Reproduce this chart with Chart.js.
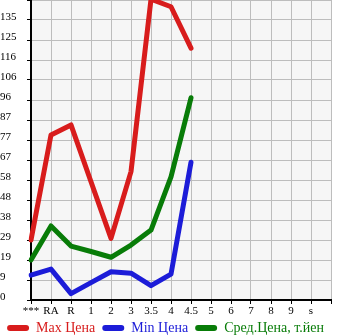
<!DOCTYPE html>
<html>
<head>
<meta charset="utf-8">
<script src="https://cdn.jsdelivr.net/npm/chart.js@4/dist/chart.umd.min.js"></script>
<style>
html,body{margin:0;padding:0;background:#fff;}
#wrap{width:345px;height:335px;}
</style>
</head>
<body>
<div id="wrap"><canvas id="c" width="345" height="335"></canvas></div>
<script>
const categories = ['***','RA','R','1','2','3','3,5','4','4,5','5','6','7','8','9','s'];
const maxPrices = [28.9, 79.6, 84.4, 57.0, 29.7, 61.9, 145, 141.4, 121.4, null, null, null, null, null, null];
const minPrices = [12.0, 14.9, 3.1, 8.4, 13.6, 12.9, 6.9, 12.5, 66.4, null, null, null, null, null, null];
const avgPrices = [19.3, 35.7, 26.0, 23.4, 20.6, 26.5, 33.7, 59.4, 97.5, null, null, null, null, null, null];
const yTickLabels = ['0','9','19','29','38','48','58','67','77','87','96','106','116','125','135'];
const seriesNames = ['Max Цена','Min Цена','Сред.Цена, т.йен'];
const seriesColors = ['#d81c1c','#1c1cd8','#087c08'];

const yStep = 135/14;
const yMax = yStep*15;

const bgPlugin = {
  id:'bg',
  beforeDraw(chart){
    const {ctx, chartArea:a} = chart;
    ctx.save();
    ctx.fillStyle = '#f6f6f6';
    ctx.fillRect(a.left, a.top, a.right-a.left, a.bottom-a.top);
    ctx.restore();
  }
};

const serif = "'Liberation Serif', 'Times New Roman', serif";

function ds(i, data){
  return {
    label: seriesNames[i],
    data: data,
    borderColor: seriesColors[i],
    backgroundColor: seriesColors[i],
    borderWidth: 5,
    pointRadius: 0,
    pointHoverRadius: 0,
    borderJoinStyle: 'round',
    borderCapStyle: 'round',
    tension: 0,
    spanGaps: false
  };
}

new Chart(document.getElementById('c'), {
  type: 'line',
  data: {
    labels: [...categories, ''],
    datasets: [ds(0, maxPrices), ds(1, minPrices), ds(2, avgPrices)]
  },
  options: {
    responsive: false,
    animation: false,
    devicePixelRatio: 1,
    layout: {padding: {top: 0, right: 14, left: 0, bottom: 0}},
    plugins: {
      tooltip: {enabled: false},
      legend: {
        position: 'bottom',
        align: 'center',
        maxHeight: 21,
        labels: {
          boxWidth: 22,
          boxHeight: 6,
          useBorderRadius: true,
          borderRadius: 3,
          padding: 7,
          font: {family: serif, size: 14},
          generateLabels(chart){
            return chart.data.datasets.map((d, i) => ({
              text: d.label,
              fillStyle: seriesColors[i],
              strokeStyle: seriesColors[i],
              lineWidth: 0,
              fontColor: seriesColors[i],
              borderRadius: 3,
              datasetIndex: i,
              hidden: false
            }));
          }
        }
      }
    },
    scales: {
      x: {
        type: 'category',
        offset: false,
        grid: {offset: false, color: '#bdbdbd', lineWidth: 1, tickColor: '#000', tickLength: 4, drawTicks: true},
        border: {color: '#000', width: 2},
        ticks: {autoSkip: false, maxRotation: 0, minRotation: 0, color: '#000', padding: 1, font: {family: serif, size: 11}},
        afterFit(s){ s.height = 14; s.paddingLeft = 0; s.paddingRight = 0; }
      },
      y: {
        type: 'linear',
        min: 0,
        max: yMax,
        afterBuildTicks(s){
          const t = [];
          for (let i = 0; i <= 15; i++) t.push({value: i*yStep});
          s.ticks = t;
        },
        grid: {color: '#bdbdbd', lineWidth: 1, tickColor: '#000', tickLength: 4, drawTicks: true},
        border: {color: '#000', width: 2},
        ticks: {
          color: '#000',
          crossAlign: 'far',
          labelOffset: -3,
          font: {family: serif, size: 11},
          callback(v, idx){ return idx < yTickLabels.length ? yTickLabels[idx] : ''; }
        },
        afterFit(s){ s.width = 31; s.paddingTop = 0; s.paddingBottom = 0; }
      }
    }
  },
  plugins: [bgPlugin]
});
</script>
</body>
</html>
